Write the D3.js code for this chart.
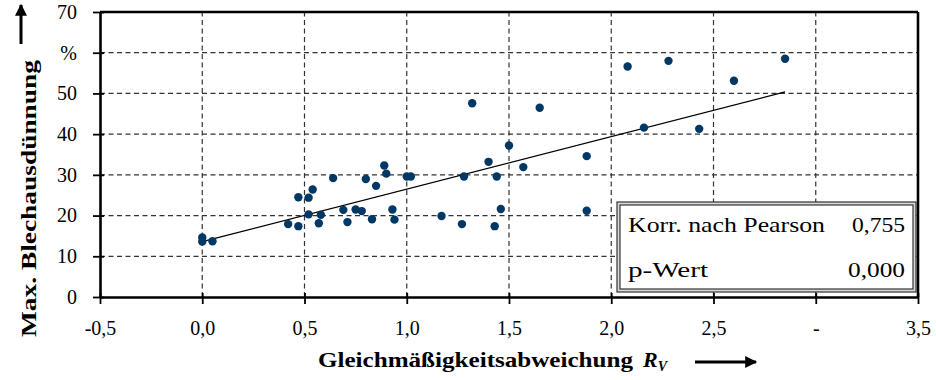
<!DOCTYPE html>
<html><head><meta charset="utf-8">
<script src="https://cdn.jsdelivr.net/npm/d3@7"></script>
<style>body{margin:0;background:#fff}svg{display:block}
svg text{font-family:'Liberation Serif','Times New Roman',serif}
</style>
</head><body>
<svg id="c" width="936" height="380"></svg>
<script>
// Data
const xValues = [0.00,0.00,0.05,0.42,0.47,0.47,0.52,0.54,0.52,0.58,0.57,0.64,0.69,0.71,0.75,0.78,0.80,0.85,0.83,0.89,0.90,0.93,0.94,1.00,1.02,1.17,1.27,1.28,1.32,1.40,1.43,1.44,1.46,1.50,1.57,1.65,1.88,1.88,2.08,2.16,2.28,2.43,2.60,2.85];
const yValues = [14.6,13.6,13.7,17.9,24.5,17.4,24.4,26.4,20.3,20.2,18.1,29.2,21.4,18.4,21.5,21.1,29.0,27.3,19.1,32.3,30.3,21.5,19.0,29.6,29.6,19.9,17.9,29.6,47.6,33.2,17.4,29.6,21.6,37.2,31.9,46.5,34.6,21.2,56.6,41.6,58.0,41.3,53.1,58.5];
const fitCoef = [13.6, 12.9]; // intercept, slope
const xTicks = [-0.5,0,0.5,1,1.5,2,2.5,3,3.5];
const xTickLabels = ["-0,5","0,0","0,5","1,0","1,5","2,0","2,5","-","3,5"];
const yTicks = [0,10,20,30,40,50,60,70];
const yTickLabels = ["0","10","20","30","40","50","%","70"];
const statLabels = ["Korr. nach Pearson","p-Wert"];
const statValues = ["0,755","0,000"];

const svg = d3.select("#c");
const F = "'Liberation Serif', 'Times New Roman', serif";
const x = d3.scaleLinear().domain([-0.5,3.5]).range([100,918]);
const y = d3.scaleLinear().domain([0,70]).range([297,12]);

// grid
const g = svg.append("g").attr("stroke","#333").attr("stroke-width",1.2).attr("stroke-dasharray","5,3.5");
g.selectAll("line.v").data(xTicks.slice(1,-1)).join("line")
  .attr("x1",d=>x(d)).attr("x2",d=>x(d)).attr("y1",y(0)).attr("y2",y(70));
g.selectAll("line.h").data(yTicks.slice(1,-1)).join("line")
  .attr("x1",x(-0.5)).attr("x2",x(3.5)).attr("y1",d=>y(d)).attr("y2",d=>y(d));

// axes
const xAxis = d3.axisBottom(x).tickValues(xTicks).tickFormat((d,i)=>xTickLabels[i]).tickSizeInner(7).tickSizeOuter(0).tickPadding(17);
const ax = svg.append("g").attr("transform",`translate(0,${y(0)})`).call(xAxis);
const yAxis = d3.axisLeft(y).tickValues(yTicks).tickFormat((d,i)=>yTickLabels[i]).tickSizeInner(7).tickSizeOuter(0).tickPadding(16);
const ay = svg.append("g").attr("transform",`translate(${x(-0.5)},0)`).call(yAxis);
[ax,ay].forEach(a=>{
  a.attr("font-family",F).attr("font-size",20);
  a.select(".domain").attr("stroke","#000").attr("stroke-width",2.6);
  a.selectAll(".tick line").attr("stroke","#000").attr("stroke-width",1.8);
  a.selectAll(".tick text").attr("fill","#000");
});
ax.selectAll(".tick line").attr("y1",-4);
ay.selectAll(".tick line").attr("x1",4);
// top & right frame
svg.append("line").attr("x1",x(-0.5)).attr("x2",x(3.5)).attr("y1",y(70)).attr("y2",y(70)).attr("stroke","#000").attr("stroke-width",2.6);
svg.append("line").attr("x1",x(3.5)).attr("x2",x(3.5)).attr("y1",y(70)).attr("y2",y(0)).attr("stroke","#000").attr("stroke-width",2.6);

// fit line
const xMin = d3.min(xValues), xMax = d3.max(xValues);
svg.append("line").attr("x1",x(xMin)).attr("y1",y(fitCoef[0]+fitCoef[1]*xMin))
  .attr("x2",x(xMax)).attr("y2",y(fitCoef[0]+fitCoef[1]*xMax))
  .attr("stroke","#000").attr("stroke-width",1.3);

// points
svg.append("g").selectAll("circle").data(xValues.map((v,i)=>[v,yValues[i]])).join("circle")
  .attr("cx",d=>x(d[0])).attr("cy",d=>y(d[1])).attr("r",4.2).attr("fill","#003865");

// stat box
svg.append("rect").attr("x",617).attr("y",202).attr("width",299).attr("height",90).attr("fill","#d8d8d8").attr("stroke","#333").attr("stroke-width",1.2);
svg.append("rect").attr("x",620).attr("y",205).attr("width",293).attr("height",84).attr("fill","#fff").attr("stroke","#333").attr("stroke-width",1.2);
const by = [232,277];
const labLen = [197,80];
const valLen = [53,57];
statLabels.forEach((t,i)=>{
  svg.append("text").attr("x",628).attr("y",by[i]).style("font-size","22px")
    .attr("textLength",labLen[i]).attr("lengthAdjust","spacingAndGlyphs").text(t);
  svg.append("text").attr("x",905-valLen[i]).attr("y",by[i]).style("font-size","22px")
    .attr("textLength",valLen[i]).attr("lengthAdjust","spacingAndGlyphs").text(statValues[i]);
});

// axis titles
svg.append("text").attr("x",318).attr("y",367).style("font-size","22px").attr("font-weight","bold")
  .attr("textLength",315).attr("lengthAdjust","spacingAndGlyphs").text("Gleichmäßigkeitsabweichung");
const rt = svg.append("text").attr("x",643).attr("y",367).style("font-size","22px").attr("font-weight","bold").attr("font-style","italic");
rt.append("tspan").text("R");
rt.append("tspan").style("font-size","14px").attr("dy",4).text("V");
svg.append("text").attr("transform","translate(36,337) rotate(-90)").style("font-size","22px").attr("font-weight","bold")
  .attr("textLength",277).attr("lengthAdjust","spacingAndGlyphs").text("Max. Blechausdünnung");

// arrows
const defs = svg.append("defs");
defs.append("marker").attr("id","ah").attr("viewBox","0 0 10 10").attr("refX",9).attr("refY",5)
  .attr("markerWidth",5).attr("markerHeight",4).attr("markerUnits","strokeWidth").attr("orient","auto")
  .append("path").attr("d","M0,0L10,5L0,10z").attr("fill","#000");
svg.append("line").attr("x1",695).attr("y1",362).attr("x2",756).attr("y2",362).attr("stroke","#000").attr("stroke-width",3).attr("marker-end","url(#ah)");
svg.append("line").attr("x1",21).attr("y1",44).attr("x2",21).attr("y2",5).attr("stroke","#000").attr("stroke-width",3).attr("marker-end","url(#ah)");
</script>
</body></html>
